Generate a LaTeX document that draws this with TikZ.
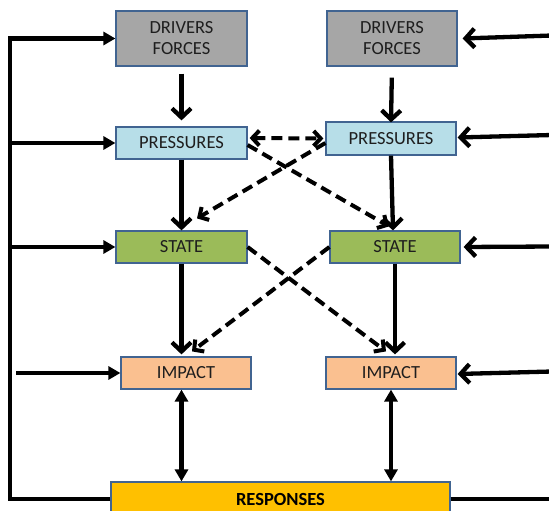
\documentclass[tikz,border=0pt]{standalone}
\usepackage{fontspec}
\setmainfont{Carlito}
\usetikzlibrary{arrows.meta}
\definecolor{boxline}{RGB}{65,100,145}
\definecolor{drvfill}{RGB}{166,166,166}
\definecolor{presfill}{RGB}{183,222,232}
\definecolor{statefill}{RGB}{155,187,89}
\definecolor{impfill}{RGB}{250,192,144}
\definecolor{respfill}{RGB}{255,192,0}
\definecolor{txt}{RGB}{30,30,30}
\tikzset{
  dpsir/.style={draw=boxline, line width=1.2pt, inner sep=0pt, align=center,
    text=txt, font=\fontsize{18.5}{21}\selectfont},
  drvbox/.style={dpsir, fill=drvfill, minimum width=131pt, minimum height=55pt},
  presbox/.style={dpsir, fill=presfill, minimum width=131pt, minimum height=32pt},
  statebox/.style={dpsir, fill=statefill, minimum width=131pt, minimum height=32pt},
  impbox/.style={dpsir, fill=impfill, minimum width=130pt, minimum height=32pt},
  respbox/.style={dpsir, fill=respfill, minimum width=339pt, minimum height=34pt,
    text=black, font=\fontsize{18.5}{21}\selectfont\bfseries},
  openarrow/.style={line width=4.3pt, -{Straight Barb[length=9pt,width=19pt]}},
  fillarrow/.style={line width=4.3pt, -{Triangle[length=12pt,width=13pt]}},
  bothfill/.style={line width=4.3pt, {Triangle[length=12pt,width=13pt]}-{Triangle[length=12pt,width=13pt]}},
  plainline/.style={line width=4.3pt},
  dasharrow/.style={line width=4pt, dash pattern=on 11pt off 6pt,
    -{Straight Barb[length=7pt,width=15pt]}},
  dashboth/.style={line width=4pt, dash pattern=on 11pt off 6pt,
    {Straight Barb[length=7pt,width=15pt]}-{Straight Barb[length=7pt,width=15pt]}},
}
\begin{document}
\begin{tikzpicture}[x=1pt, y=-1pt]
\useasboundingbox (0,0) rectangle (549,511);

% boxes, left chain
\node[drvbox]   (drvL)  at (181.5,38.5) {DRIVERS\\FORCES};
\node[presbox]  (presL) at (181.5,143)  {PRESSURES};
\node[statebox] (stL)   at (181.5,247)  {STATE};
\node[impbox]   (imL)   at (186,373)    {IMPACT};
% boxes, right chain
\node[drvbox, minimum width=130pt]   (drvR)  at (392,38.5) {DRIVERS\\FORCES};
\node[presbox, minimum width=130pt, minimum height=33pt] (presR) at (391,138.5) {PRESSURES};
\node[statebox, minimum width=130pt] (stR)   at (395,247)  {STATE};
\node[impbox]   (imR)   at (391,373)    {IMPACT};
% responses
\node[respbox]  (resp)  at (280.5,499)  {RESPONSES};

% feedback loop on the left
\coordinate (lt) at (10,38.5);
\coordinate (li) at (16,373);
\draw[fillarrow, line join=miter] (resp.west) -| (lt) -- (drvL.west);
\draw[fillarrow] (presL.west -| lt) -- (presL.west);
\draw[fillarrow] (stL.west -| lt) -- (stL.west);
\draw[fillarrow] (li) -- (imL.west);

% inputs from the right
\coordinate (rD) at (552,35.5);
\coordinate (rP) at (552,135);
\coordinate (rS) at (552,246.5);
\coordinate (rI) at (552,371.5);
\coordinate (rR) at (552,499);
\draw[openarrow] (rD) -- ([xshift=5pt]drvR.east);
\draw[openarrow] (rP) -- ([xshift=1pt,yshift=1pt]presR.east);
\draw[openarrow] (rS) -- ([xshift=3pt]stR.east);
\draw[openarrow] (rI) -- ([xshift=1pt,yshift=-1pt]imR.east);
\draw[plainline] (resp.east) -- (rR);

% main chain, left
\draw[openarrow, shorten <=7pt, shorten >=6pt] (drvL.south) -- (presL.north);
\draw[openarrow] (presL.south) -- (stL.north);
\draw[openarrow, shorten >=2pt] (stL.south) -- (stL.south |- imL.north);
\draw[bothfill] (stL.south |- imL.south) -- (stL.south |- resp.north);
% main chain, right
\draw[openarrow, shorten <=11pt] (drvR.south) -- ([yshift=-1pt]presR.north);
\draw[openarrow] (presR.south) -- ([xshift=-2pt]stR.north);
\draw[openarrow, shorten >=2pt] (stR.south) -- (stR.south |- imR.north);
\draw[bothfill] (imR.south) -- (imR.south |- resp.north);

% cross links
\draw[dashboth] ([xshift=2pt,yshift=5pt]presL.east) -- ([xshift=-2pt]presR.west);
\draw[dasharrow] ([yshift=-4.5pt]presR.west) -- ([xshift=15.5pt,yshift=12pt]stL.north);
\draw[dasharrow] ([yshift=-2pt]presL.east) -- ([xshift=-6pt,yshift=4pt]stR.north);
\draw[dasharrow] (stL.east) -- ([xshift=-5pt,yshift=5pt]imR.north);
\draw[dasharrow] (stR.west) -- ([xshift=6pt,yshift=5pt]imL.north);
\end{tikzpicture}
\end{document}
